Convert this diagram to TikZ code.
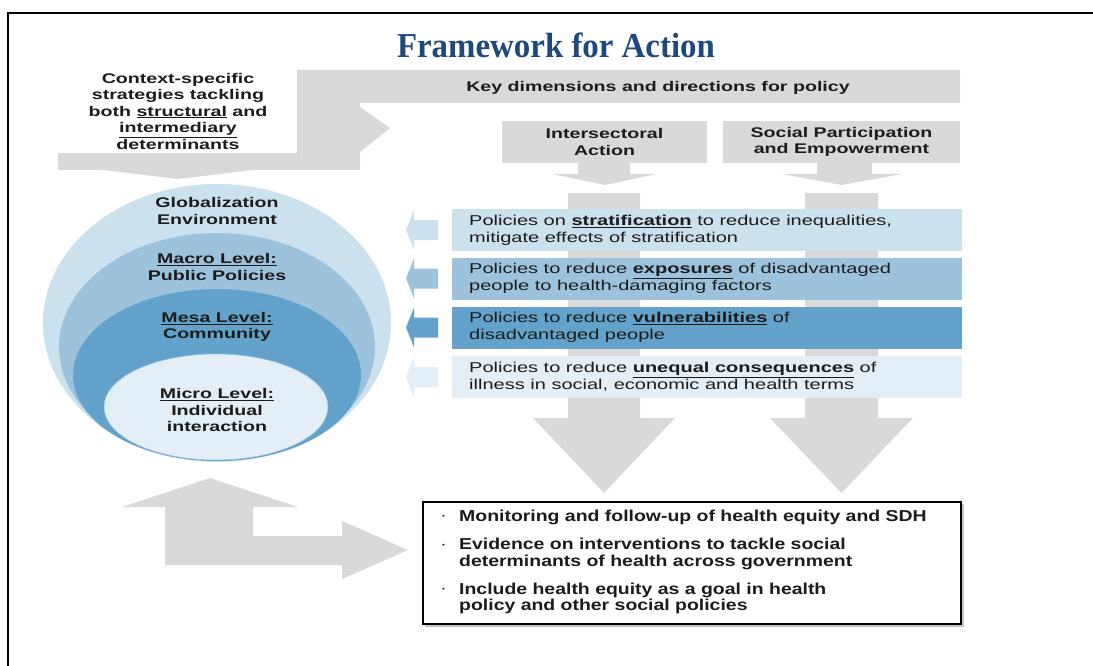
\documentclass[tikz,border=0pt]{standalone}
\usepackage{fontspec}
\setmainfont{Liberation Sans}[FakeStretch=1.4]
\newfontfamily\narrowfont{Liberation Sans}[FakeStretch=1.23]
\newfontfamily\titlefont{Liberation Serif}[FakeStretch=0.94]
\definecolor{gr}{RGB}{217,217,217}
\definecolor{b1}{RGB}{204,225,238}
\definecolor{b2}{RGB}{157,195,220}
\definecolor{b3}{RGB}{99,163,203}
\definecolor{b4}{RGB}{227,238,246}
\definecolor{tblue}{RGB}{31,73,125}
\definecolor{txt}{RGB}{28,28,28}
\begin{document}
\begin{tikzpicture}[x=1pt,y=-1pt,
  lbl/.style={font=\fontsize{14}{16.5}\selectfont\bfseries, text=txt, align=center, inner sep=0pt},
  pol/.style={font=\fontsize{14.3}{17}\selectfont, text=txt, align=left, anchor=west, inner sep=0pt},
  polbox/.style={minimum width=510pt, minimum height=42pt, inner sep=0pt, draw=none},
  topbox/.style={fill=gr, minimum height=42pt, inner sep=0pt, draw=none},
  bot/.style={font=\narrowfont\fontsize{15.8}{16.8}\selectfont\bfseries, text=txt, align=left, anchor=west, inner sep=0pt},
  bul/.style={font=\fontsize{10}{10}\selectfont\bfseries, text=txt, inner sep=0pt},
  blk/.style={fill=gr}]
\useasboundingbox (0,0) rectangle (1093,666);
\fill[white] (0,0) rectangle (1093,666);
% frame
\draw[line width=2.2pt, black] (8,666) -- (8,13) -- (1093,13);
% title
\node[font=\titlefont\fontsize{35}{38}\selectfont\bfseries, text=tblue, inner sep=0pt] (title) at (556,45) {Framework for Action};
% L-shaped arrow
\fill[blk] (58,153) -- (297,153) -- (297,70) -- (960,70) -- (960,103) -- (360,103) -- (360,170) -- (58,170) -- cycle;
\fill[blk] (360,107) -- (390,128) -- (360,152) -- cycle;
\fill[blk] (103,170) -- (253,170) -- (178,179) -- cycle;
\node[lbl] (ctx) at (178,111) {Context-specific\\strategies tackling\\both \underline{structural} and\\\underline{intermediary}\\determinants};
\node[lbl] (key) at (658,88) {Key dimensions and directions for policy};
% top boxes
\node[topbox, minimum width=205pt] (inter) at (604.5,142) {};
\node[lbl] at (inter.center) {Intersectoral\\Action};
\node[topbox, minimum width=237pt] (soc) at (841.5,142) {};
\node[lbl] at (soc.center) {Social Participation\\and Empowerment};
% small down arrows
\fill[blk] (578,163) -- (630,163) -- (630,174) -- (657,174) -- (605,185) -- (552,174) -- (578,174) -- cycle;
\fill[blk] (817,163) -- (872,163) -- (872,174) -- (902,174) -- (842,185) -- (782,174) -- (817,174) -- cycle;
% big down arrows
\fill[blk] (568,193) -- (640,193) -- (640,418) -- (675,418) -- (604,493) -- (533,418) -- (568,418) -- cycle;
\fill[blk] (805,193) -- (878,193) -- (878,418) -- (913,418) -- (841.5,493) -- (770,418) -- (805,418) -- cycle;
% policy boxes
\node[polbox, fill=b1] (p1) at (707,230) {};
\node[polbox, fill=b2] (p2) at (707,278.5) {};
\node[polbox, fill=b3] (p3) at (707,327.5) {};
\node[polbox, fill=b4] (p4) at (707,377) {};
\node[pol] at (469,230) {Policies on \underline{\textbf{stratification}} to reduce inequalities,\\mitigate effects of stratification};
\node[pol] at (469,278.5) {Policies to reduce \underline{\textbf{exposures}} of disadvantaged\\people to health-damaging factors};
\node[pol] at (469,327.5) {Policies to reduce \underline{\textbf{vulnerabilities}} of\\disadvantaged people};
\node[pol] at (469,377) {Policies to reduce \underline{\textbf{unequal consequences}} of\\illness in social, economic and health terms};
% small left arrows
\foreach \c/\col in {230/b1, 278.5/b2, 327.5/b3, 377/b4}{
  \fill[\col] (438,\c-10) -- (414,\c-10) -- (414,\c-20) -- (406,\c) -- (414,\c+20) -- (414,\c+10) -- (438,\c+10) -- cycle;
}
% nested ellipses
\fill[b1] (217,323) ellipse [x radius=174, y radius=139];
\fill[b2] (217,347) ellipse [x radius=158, y radius=114];
\fill[b3] (217,375) ellipse [x radius=144, y radius=86];
\filldraw[fill=b4, draw=b2, line width=0.5pt] (216,407) ellipse [x radius=112, y radius=53];
\node[lbl] (glob) at (217,211) {Globalization\\Environment};
\node[lbl] (macro) at (217,267) {\underline{Macro Level:}\\Public Policies};
\node[lbl] (mesa) at (217,327) {\underline{Mesa Level:}\\Community};
\node[lbl] (micro) at (217,410) {\underline{Micro Level:}\\Individual\\interaction};
% bottom-left double arrow
\fill[blk] (165,565) -- (165,507) -- (122,507) -- (210,478) -- (298,507) -- (253,507) -- (253,536) -- (342,536) -- (342,521) -- (408,550) -- (342,579) -- (342,565) -- cycle;
% bottom box
\fill[gray!45] (425,504) rectangle (963.5,626.5);
\node[draw=black, fill=white, line width=1.2pt, minimum width=538pt, minimum height=122pt, inner sep=0pt] (mon) at (692,563) {};
\node[bul] at (444,517) {·};
\node[bot] at (459,517) {Monitoring and follow-up of health equity and SDH};
\node[bul] at (444,546) {·};
\node[bot] at (459,554) {Evidence on interventions to tackle social\\determinants of health across government};
\node[bul] at (444,590) {·};
\node[bot] at (459,598.5) {Include health equity as a goal in health\\policy and other social policies};
\end{tikzpicture}
\end{document}
